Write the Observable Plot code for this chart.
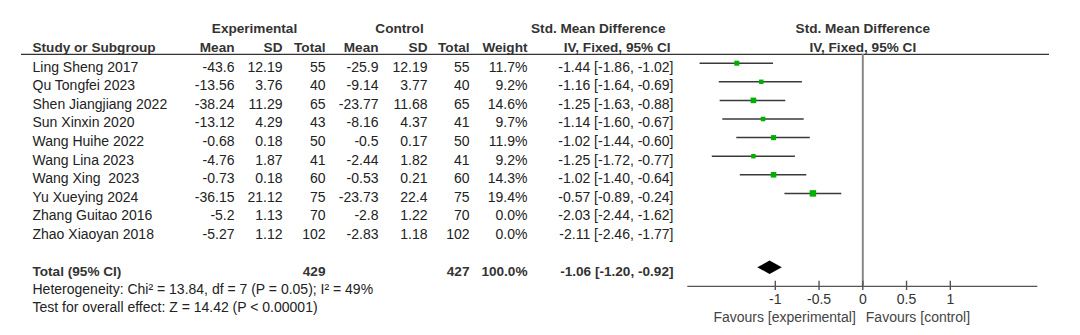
<!DOCTYPE html>
<html><head><meta charset="utf-8">
<script src="https://cdn.jsdelivr.net/npm/d3@7"></script>
<script src="https://cdn.jsdelivr.net/npm/@observablehq/plot@0.6"></script>
<style>
html,body{margin:0;padding:0;background:#fff;}
#chart{position:relative;width:1080px;height:335px;display:flex;flex-direction:row;}
svg text{white-space:pre;}
</style></head><body><div id="chart"></div>
<script>
// ---------- data ----------
const studies = ["Ling Sheng 2017","Qu Tongfei 2023","Shen Jiangjiang 2022","Sun Xinxin 2020","Wang Huihe 2022","Wang Lina 2023","Wang Xing  2023","Yu Xueying 2024","Zhang Guitao 2016","Zhao Xiaoyan 2018"];
const expMean = [-43.6, -13.56, -38.24, -13.12, -0.68, -4.76, -0.73, -36.15, -5.2, -5.27];
const expSD   = [12.19, 3.76, 11.29, 4.29, 0.18, 1.87, 0.18, 21.12, 1.13, 1.12];
const expN    = [55, 40, 65, 43, 50, 41, 60, 75, 70, 102];
const ctlMean = [-25.9, -9.14, -23.77, -8.16, -0.5, -2.44, -0.53, -23.73, -2.8, -2.83];
const ctlSD   = [12.19, 3.77, 11.68, 4.37, 0.17, 1.82, 0.21, 22.4, 1.22, 1.18];
const ctlN    = [55, 40, 65, 41, 50, 41, 60, 75, 70, 102];
const weight  = [11.7, 9.2, 14.6, 9.7, 11.9, 9.2, 14.3, 19.4, 0.0, 0.0];
const smd     = [-1.44, -1.16, -1.25, -1.14, -1.02, -1.25, -1.02, -0.57, -2.03, -2.11];
const ciLo    = [-1.86, -1.64, -1.63, -1.60, -1.44, -1.72, -1.40, -0.89, -2.44, -2.46];
const ciHi    = [-1.02, -0.69, -0.88, -0.67, -0.60, -0.77, -0.64, -0.24, -1.62, -1.77];
const totalLabel = "Total (95% CI)";
const totalExpN = 429, totalCtlN = 427, totalWeight = 100.0;
const totalSMD = -1.06, totalLo = -1.20, totalHi = -0.92;
const heterogeneity = "Heterogeneity: Chi² = 13.84, df = 7 (P = 0.05); I² = 49%";
const overallTest = "Test for overall effect: Z = 14.42 (P < 0.00001)";
const xTicks = [-1, -0.5, 0, 0.5, 1];
const xTickLabels = ["-1", "-0.5", "0", "0.5", "1"];
const favLeft = "Favours [experimental]", favRight = "Favours [control]";
const groupHeaders = ["Experimental", "Control", "Std. Mean Difference"];
const colHeaders = ["Study or Subgroup", "Mean", "SD", "Total", "Mean", "SD", "Total", "Weight", "IV, Fixed, 95% CI"];

// ---------- layout (pixels / row units) ----------
const FONT = "Liberation Sans, Arial, Helvetica, sans-serif";
const INK = "#222";
const yScale = {domain: [0, 11], range: [62.7, 267.3], axis: null};
const TXT_DY = 4;
const col = {study: 32, eMean: 234, eSD: 282, eN: 325, cMean: 378, cSD: 427, cN: 469, w: 527, ci: 673};
const rowHead1 = -2.07, rowHead2 = -1.05, rowLine = -0.47, rowTotal = 11, rowHet = 11.95, rowTest = 12.9, rowAxis = 12;
const fmt2 = v => v.toFixed(2);
const ciText = (m, l, h) => `${fmt2(m)} [${fmt2(l)}, ${fmt2(h)}]`;

const rows = studies.map((s, i) => ({
  i, study: s, eMean: expMean[i], eSD: expSD[i], eN: expN[i],
  cMean: ctlMean[i], cSD: ctlSD[i], cN: ctlN[i], w: weight[i],
  smd: smd[i], lo: ciLo[i], hi: ciHi[i]
}));

// ---------- table plot ----------
const tOpt = {fill: INK, fontSize: 14, dy: TXT_DY, fontFamily: FONT};
const bOpt = {...tOpt, fontSize: 13.6, fontWeight: "bold", fill: "#333"};
const numCol = (key, fmt) => Plot.text(rows, {x: () => col[key], y: "i", text: d => fmt(d[key]), textAnchor: "end", ...tOpt});
const headerDefs = [
  {text: groupHeaders[0], x: 254, y: rowHead1, a: "middle"},
  {text: groupHeaders[1], x: 399, y: rowHead1, a: "middle"},
  {text: groupHeaders[2], x: 665, y: rowHead1, a: "end"},
  {text: colHeaders[0], x: col.study, y: rowHead2, a: "start"},
  {text: colHeaders[1], x: col.eMean, y: rowHead2, a: "end"},
  {text: colHeaders[2], x: col.eSD, y: rowHead2, a: "end"},
  {text: colHeaders[3], x: col.eN, y: rowHead2, a: "end"},
  {text: colHeaders[4], x: col.cMean, y: rowHead2, a: "end"},
  {text: colHeaders[5], x: col.cSD, y: rowHead2, a: "end"},
  {text: colHeaders[6], x: col.cN, y: rowHead2, a: "end"},
  {text: colHeaders[7], x: col.w, y: rowHead2, a: "end"},
  {text: colHeaders[8], x: 670, y: rowHead2, a: "end"}
];
const totalDefs = [
  {text: totalLabel, x: col.study, a: "start"},
  {text: String(totalExpN), x: col.eN, a: "end"},
  {text: String(totalCtlN), x: col.cN, a: "end"},
  {text: totalWeight.toFixed(1) + "%", x: col.w, a: "end"},
  {text: ciText(totalSMD, totalLo, totalHi), x: col.ci, a: "end"}
];
const byAnchor = (defs, opts, yAcc) => ["start", "middle", "end"].map(a =>
  Plot.text(defs.filter(d => d.a === a), {x: "x", y: yAcc, text: "text", textAnchor: a, ...opts}));

const table = Plot.plot({
  width: 680, height: 335, margin: 0,
  style: {fontFamily: FONT, fontSize: "14px", background: "#fff"},
  x: {type: "identity", axis: null},
  y: yScale,
  marks: [
    Plot.ruleY([rowLine], {x1: 21, x2: 680, stroke: "#333", strokeWidth: 1.3}),
    ...byAnchor(headerDefs, bOpt, "y"),
    Plot.text(rows, {x: () => col.study, y: "i", text: "study", textAnchor: "start", ...tOpt}),
    numCol("eMean", String), numCol("eSD", String), numCol("eN", String),
    numCol("cMean", String), numCol("cSD", String), numCol("cN", String),
    numCol("w", v => v.toFixed(1) + "%"),
    Plot.text(rows, {x: () => col.ci, y: "i", text: d => ciText(d.smd, d.lo, d.hi), textAnchor: "end", ...tOpt}),
    ...byAnchor(totalDefs, bOpt, () => rowTotal),
    Plot.text([heterogeneity], {x: () => col.study, y: () => rowHet, text: d => d, textAnchor: "start", ...tOpt}),
    Plot.text([overallTest], {x: () => col.study, y: () => rowTest, text: d => d, textAnchor: "start", ...tOpt})
  ]
});

// ---------- forest plot ----------
const forestRows = rows.filter(d => d.w > 0);
const halfH = 0.36;
const diamond = [
  {y: rowTotal - halfH, x1: totalSMD, x2: totalSMD},
  {y: rowTotal, x1: totalLo, x2: totalHi},
  {y: rowTotal + halfH, x1: totalSMD, x2: totalSMD}
];
const forest = Plot.plot({
  width: 400, height: 335,
  marginLeft: 0, marginRight: 31, marginTop: 0, marginBottom: 54.3,
  style: {fontFamily: FONT, fontSize: "14px", background: "#fff"},
  x: {domain: [-2, 2], range: [7.3, 357.3]},
  y: yScale,
  r: {type: "sqrt", domain: [0, 20], range: [0, 3.7]},
  marks: [
    Plot.ruleY([rowLine], {stroke: "#333", strokeWidth: 1.3}),
    Plot.ruleX([0], {y1: rowLine, y2: rowAxis, stroke: "#888", strokeWidth: 2}),
    Plot.ruleY([rowAxis], {x1: -2, x2: 2, stroke: "#555", strokeWidth: 1.4}),
    Plot.ruleY(forestRows, {y: "i", x1: "lo", x2: "hi", stroke: "#3a3a3a", strokeWidth: 1.5}),
    Plot.dot(forestRows, {x: "smd", y: "i", r: "w", symbol: "square", fill: "#00b000", stroke: null}),
    Plot.areaX(diamond, {y: "y", x1: "x1", x2: "x2", fill: "#000", curve: "linear"}),
    Plot.axisX({ticks: xTicks, tickFormat: d => xTickLabels[xTicks.indexOf(d)], tickSize: 9.3, tickPadding: 4, stroke: "#555", strokeWidth: 1.4, fill: "#333", fontSize: 14, label: null}),
    Plot.text([groupHeaders[2], colHeaders[8]], {x: () => 0, y: (d, i) => i === 0 ? rowHead1 : rowHead2, text: d => d, textAnchor: "middle", ...bOpt}),
    Plot.text([favLeft], {x: () => 0, y: () => 13.44, text: d => d, textAnchor: "end", dx: -7, ...tOpt, fill: "#444"}),
    Plot.text([favRight], {x: () => 0, y: () => 13.44, text: d => d, textAnchor: "start", dx: 3, ...tOpt, fill: "#444"})
  ]
});

const root = document.getElementById("chart");
root.appendChild(table);
root.appendChild(forest);
</script></body></html>
